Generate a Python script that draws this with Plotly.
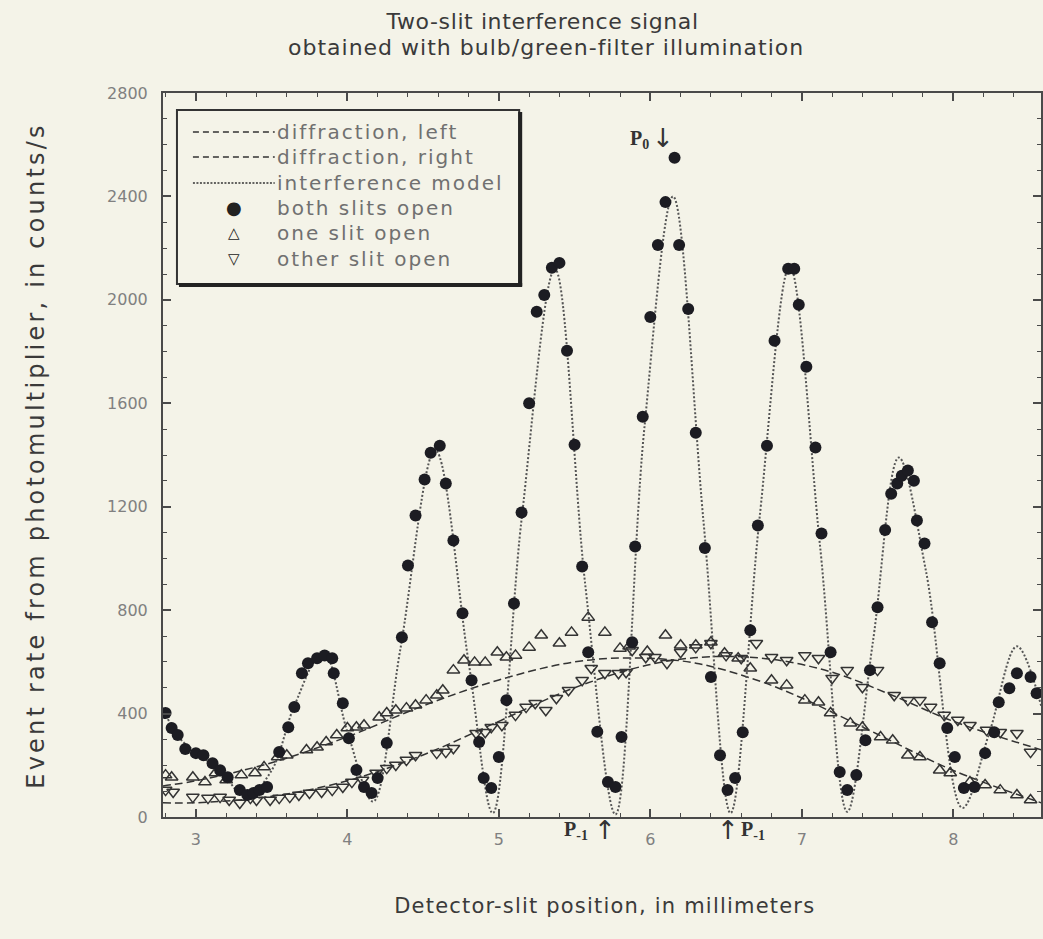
import json
import plotly.graph_objects as go

# ---- measured data -------------------------------------------------------
# both slits open (filled circles)
both_x = [2.80, 2.84, 2.88, 2.93, 3.00, 3.05, 3.11, 3.16, 3.21, 3.29, 3.34, 3.38, 3.42, 3.47,
          3.55, 3.61, 3.65, 3.70, 3.74, 3.80, 3.85, 3.90, 3.91, 3.97, 4.01, 4.06, 4.11, 4.16,
          4.20, 4.26, 4.36, 4.40, 4.45, 4.51, 4.55, 4.61, 4.65, 4.70, 4.76, 4.82, 4.87, 4.90,
          4.95, 5.00, 5.05, 5.10, 5.15, 5.20, 5.25, 5.30, 5.35, 5.40, 5.45, 5.50, 5.55, 5.59,
          5.65, 5.72, 5.77, 5.81, 5.88, 5.90, 5.95, 6.00, 6.05, 6.10, 6.16, 6.19, 6.25, 6.30,
          6.36, 6.40, 6.46, 6.51, 6.56, 6.61, 6.66, 6.71, 6.77, 6.82, 6.91, 6.95, 6.98, 7.03,
          7.09, 7.13, 7.19, 7.25, 7.30, 7.36, 7.42, 7.45, 7.50, 7.55, 7.59, 7.63, 7.66, 7.70,
          7.74, 7.76, 7.81, 7.86, 7.91, 7.96, 8.01, 8.07, 8.14, 8.21, 8.27, 8.30, 8.37, 8.42,
          8.51, 8.55]
both_y = [402, 344, 317, 263, 247, 239, 208, 181, 154, 104, 85, 93, 104, 116,
          251, 347, 425, 556, 595, 614, 625, 614, 556, 440, 305, 182, 116, 93,
          151, 286, 695, 973, 1166, 1305, 1409, 1436, 1290, 1069, 788, 529, 290, 151,
          112, 232, 452, 826, 1178, 1600, 1954, 2019, 2124, 2143, 1803, 1440, 969, 637,
          330, 135, 116, 309, 676, 1046, 1548, 1934, 2212, 2378, 2550, 2212, 1965, 1486,
          1040, 541, 239, 104, 151, 328, 722, 1127, 1436, 1842, 2120, 2120, 1981, 1741,
          1429, 1096, 637, 174, 104, 162, 297, 568, 811, 1110, 1250, 1290, 1320, 1340,
          1300, 1147, 1058, 753, 595, 344, 232, 112, 116, 247, 328, 444, 498, 556,
          541, 479]

# one slit open (upward triangles)
one_x = [2.80, 2.84, 2.98, 3.06, 3.13, 3.20, 3.30, 3.39, 3.45, 3.54, 3.60, 3.73, 3.80, 3.86,
         3.93, 4.00, 4.06, 4.11, 4.21, 4.26, 4.32, 4.39, 4.45, 4.52, 4.59, 4.63, 4.70, 4.77,
         4.84, 4.91, 4.99, 5.05, 5.11, 5.20, 5.28, 5.40, 5.48, 5.59, 5.70, 5.80, 5.86, 5.98,
         6.10, 6.20, 6.30, 6.40, 6.49, 6.58, 6.66, 6.80, 6.90, 7.02, 7.11, 7.19, 7.32, 7.40,
         7.52, 7.60, 7.70, 7.78, 7.91, 7.98, 8.11, 8.21, 8.31, 8.42, 8.51]
one_y = [162, 154, 154, 135, 170, 143, 162, 170, 193, 232, 239, 259, 270, 290,
         317, 344, 347, 355, 386, 402, 413, 421, 432, 452, 471, 490, 568, 606,
         598, 598, 637, 618, 625, 656, 703, 672, 714, 772, 714, 652, 660, 640,
         703, 664, 664, 676, 633, 614, 575, 529, 510, 452, 444, 402, 363, 347,
         309, 297, 239, 232, 181, 170, 135, 124, 104, 85, 66]

# other slit open (downward triangles)
other_x = [2.80, 2.85, 2.98, 3.08, 3.16, 3.22, 3.29, 3.36, 3.40, 3.49, 3.55, 3.62, 3.68, 3.75,
           3.83, 3.90, 3.97, 4.03, 4.10, 4.19, 4.26, 4.32, 4.39, 4.45, 4.59, 4.65, 4.70, 4.85,
           4.91, 4.95, 5.02, 5.11, 5.18, 5.24, 5.31, 5.38, 5.46, 5.55, 5.61, 5.70, 5.79, 5.84,
           5.88, 5.97, 6.03, 6.11, 6.20, 6.30, 6.40, 6.50, 6.60, 6.70, 6.80, 6.90, 7.02, 7.11,
           7.20, 7.30, 7.40, 7.50, 7.61, 7.70, 7.78, 7.85, 7.94, 8.03, 8.11, 8.22, 8.31, 8.42,
           8.51]
other_y = [104, 97, 77, 73, 77, 66, 54, 73, 66, 66, 73, 77, 85, 93,
           97, 104, 116, 135, 143, 170, 189, 201, 220, 239, 247, 251, 266, 324,
           328, 347, 355, 394, 425, 440, 413, 459, 490, 529, 575, 556, 556, 560,
           645, 618, 618, 595, 637, 656, 672, 625, 614, 672, 618, 606, 625, 614,
           537, 568, 502, 568, 471, 452, 452, 425, 394, 375, 355, 336, 328, 324,
           251]

# interference model curve
model_x = [2.78, 2.90, 3.05, 3.20, 3.33, 3.50, 3.65, 3.84, 4.00, 4.17, 4.35, 4.58, 4.80, 4.96,
           5.15, 5.37, 5.57, 5.77, 5.96, 6.15, 6.35, 6.53, 6.72, 6.92, 7.12, 7.30, 7.47, 7.64,
           7.82, 8.06, 8.24, 8.42, 8.58]
model_y = [420, 300, 230, 150, 75, 180, 430, 640, 330, 60, 650, 1420, 600, 15,
           1150, 2120, 900, 10, 1500, 2400, 1150, 15, 1150, 2130, 1050, 20, 680, 1390,
           950, 35, 330, 660, 430]

# single-slit diffraction envelopes
diff_left_x = [2.78, 3.0, 3.5, 4.0, 4.5, 5.0, 5.5, 5.9, 6.3, 6.7, 7.0, 7.5, 8.0, 8.58]
diff_left_y = [120, 140, 210, 310, 430, 530, 600, 615, 595, 530, 460, 320, 180, 55]
diff_right_x = [2.78, 3.0, 3.5, 4.0, 4.5, 5.0, 5.5, 6.0, 6.4, 6.8, 7.2, 7.6, 8.0, 8.58]
diff_right_y = [55, 55, 80, 140, 240, 370, 500, 590, 620, 610, 560, 470, 370, 260]

x_ticks = [3, 4, 5, 6, 7, 8]
y_ticks = [0, 400, 800, 1200, 1600, 2000, 2400, 2800]

legend_labels = ["diffraction, left", "diffraction, right", "interference model",
                 "both slits open", "one slit open", "other slit open"]

# ---- styling -------------------------------------------------------------
BG = "#f4f3e8"
AXIS = "#4a4a4a"
GREY_TEXT = "#808080"
TITLE_INK = "#3a3a3a"
SANS = "DejaVu Sans, Verdana, sans-serif"
SERIF = "Liberation Serif, Times New Roman, serif"

W, H = 1043, 939
ML, MT, MR, MB = 163, 93, 0, 122
PW, PH = W - ML - MR, H - MT - MB


def px(xp):
    return (xp - ML) / PW


def py(yp):
    return (H - MB - yp) / PH


fig = go.Figure()

fig.add_trace(go.Scatter(x=diff_left_x, y=diff_left_y, mode="lines", line_shape="spline",
                         line=dict(color="#333333", width=1.5, dash="8px,4px"),
                         name=legend_labels[0], hoverinfo="skip"))
fig.add_trace(go.Scatter(x=diff_right_x, y=diff_right_y, mode="lines", line_shape="spline",
                         line=dict(color="#333333", width=1.5, dash="8px,4px"),
                         name=legend_labels[1], hoverinfo="skip"))
fig.add_trace(go.Scatter(x=model_x, y=model_y, mode="lines",
                         line=dict(color="#555555", width=2, dash="2px,2px", shape="spline",
                                   smoothing=1.0),
                         name=legend_labels[2], hoverinfo="skip"))
fig.add_trace(go.Scatter(x=one_x, y=one_y, mode="markers", name=legend_labels[4],
                         marker=dict(symbol="triangle-up-open", size=11, color="#333333",
                                     line=dict(width=1.5, color="#333333"))))
fig.add_trace(go.Scatter(x=other_x, y=other_y, mode="markers", name=legend_labels[5],
                         marker=dict(symbol="triangle-down-open", size=11, color="#333333",
                                     line=dict(width=1.5, color="#333333"))))
fig.add_trace(go.Scatter(x=both_x, y=both_y, mode="markers", name=legend_labels[3],
                         marker=dict(symbol="circle", size=12, color="#1c1c22",
                                     line=dict(width=0))))

fig.update_layout(
    width=W, height=H,
    margin=dict(l=ML, r=MR, t=MT, b=MB),
    paper_bgcolor=BG, plot_bgcolor=BG,
    showlegend=False,
    font=dict(family=SANS, color=GREY_TEXT),
)

fig.update_xaxes(
    range=[2.783, 8.579], tickvals=x_ticks, ticktext=[str(v) for v in x_ticks],
    showgrid=False, zeroline=False,
    showline=True, linecolor=AXIS, linewidth=2, mirror="allticks",
    ticks="inside", ticklen=8, tickwidth=1.5, tickcolor=AXIS,
    minor=dict(dtick=0.2, ticks="inside", ticklen=4, tickwidth=1.2, tickcolor=AXIS),
    tickfont=dict(size=16, color=GREY_TEXT, family=SANS), ticklabelstandoff=7,
)
fig.update_yaxes(
    range=[0, 2800], tickvals=y_ticks, ticktext=[str(v) for v in y_ticks],
    showgrid=False, zeroline=False,
    showline=True, linecolor=AXIS, linewidth=2, mirror="allticks",
    ticks="inside", ticklen=8, tickwidth=1.5, tickcolor=AXIS,
    minor=dict(dtick=100, ticks="inside", ticklen=4, tickwidth=1.2, tickcolor=AXIS),
    tickfont=dict(size=16, color=GREY_TEXT, family=SANS), ticklabelstandoff=10,
)

annotations = []
tracking = {}  # annotation index -> letter spacing in px


def add_text(spacing=None, **kw):
    annotations.append(dict(showarrow=False, **kw))
    if spacing:
        tracking[len(annotations) - 1] = spacing


# ---- titles ----------------------------------------------------------------
add_text(spacing=0.6, xref="paper", yref="paper", x=px(543), y=py(22),
         text="Two-slit interference signal", xanchor="center", yanchor="middle",
         font=dict(size=22, color=TITLE_INK, family=SANS))
add_text(spacing=1.0, xref="paper", yref="paper", x=px(547), y=py(48),
         text="obtained with bulb/green-filter illumination", xanchor="center", yanchor="middle",
         font=dict(size=22, color=TITLE_INK, family=SANS))
add_text(spacing=1.2, xref="paper", yref="paper", x=px(606), y=py(906),
         text="Detector-slit position, in millimeters", xanchor="center", yanchor="middle",
         font=dict(size=21, color=TITLE_INK, family=SANS))
add_text(spacing=3.2, xref="paper", yref="paper", x=px(36), y=py(455),
         text="Event rate from photomultiplier, in counts/s", textangle=-90,
         xanchor="center", yanchor="middle",
         font=dict(size=24, color=TITLE_INK, family=SANS))

# ---- hand-drawn legend box ----------------------------------------------
shapes = []
bx0, bx1, by0, by1 = 177, 520, 110, 284
shapes.append(dict(type="rect", xref="paper", yref="paper",
                   x0=px(bx0), x1=px(bx1), y0=py(by1), y1=py(by0),
                   line=dict(color="#333333", width=2), fillcolor=BG, layer="above"))
# heavy shadow edge on right and bottom
shapes.append(dict(type="line", xref="paper", yref="paper",
                   x0=px(bx1 + 1), x1=px(bx1 + 1), y0=py(by1 + 2), y1=py(by0 + 2),
                   line=dict(color="#222222", width=4), layer="above"))
shapes.append(dict(type="line", xref="paper", yref="paper",
                   x0=px(bx0 + 2), x1=px(bx1 + 3), y0=py(by1 + 1), y1=py(by1 + 1),
                   line=dict(color="#222222", width=4), layer="above"))

row_y = [132, 157, 183, 208, 233, 259]
line_dash = ["6px,4px", "6px,4px", "2px,1.5px"]
for i in range(3):
    shapes.append(dict(type="line", xref="paper", yref="paper",
                       x0=px(193), x1=px(275), y0=py(row_y[i]), y1=py(row_y[i]),
                       line=dict(color="#333333", width=1.3, dash=line_dash[i]), layer="above"))

for i, lab in enumerate(legend_labels):
    add_text(spacing=2.0, xref="paper", yref="paper", x=px(275), y=py(row_y[i]),
             text=lab, xanchor="left", yanchor="middle", align="left",
             font=dict(size=20, color="#707070", family=SANS))
marker_glyphs = ["●", "△", "▽"]
marker_sizes = [18, 15, 15]
for j, g in enumerate(marker_glyphs):
    add_text(xref="paper", yref="paper", x=px(234), y=py(row_y[3 + j]),
             text=g, xanchor="center", yanchor="middle",
             font=dict(size=marker_sizes[j], color="#222222", family=SANS))

# ---- fringe order markers -------------------------------------------------
ARROW_FONT = dict(size=26, color="#333333", family="DejaVu Sans")
add_text(x=5.93, y=2620, xref="x", yref="y", text="<b>P<sub>0</sub></b>",
         xanchor="center", yanchor="middle",
         font=dict(size=20, color="#333333", family=SERIF))
add_text(x=6.085, y=2625, xref="x", yref="y", text="↓",
         xanchor="center", yanchor="middle", font=ARROW_FONT)
add_text(x=5.51, y=py(830), xref="x", yref="paper", text="<b>P<sub>-1</sub></b>",
         xanchor="center", yanchor="middle",
         font=dict(size=20, color="#333333", family=SERIF))
add_text(x=5.70, y=py(830), xref="x", yref="paper", text="↑",
         xanchor="center", yanchor="middle", font=ARROW_FONT)
add_text(x=6.51, y=py(830), xref="x", yref="paper", text="↑",
         xanchor="center", yanchor="middle", font=ARROW_FONT)
add_text(x=6.68, y=py(830), xref="x", yref="paper", text="<b>P<sub>-1</sub></b>",
         xanchor="center", yanchor="middle",
         font=dict(size=20, color="#333333", family=SERIF))

fig.update_layout(shapes=shapes, annotations=annotations)

# widen the letter spacing of the lettering once the figure has been drawn
spacing_js = """
var gd = document.getElementById('{plot_id}');
var sp = %s;
gd.querySelectorAll('g.annotation').forEach(function (g) {
    var k = g.getAttribute('data-index');
    if (sp.hasOwnProperty(k)) {
        g.querySelectorAll('text').forEach(function (t) {
            t.style.letterSpacing = sp[k] + 'px';
        });
    }
});
""" % json.dumps({str(k): v for k, v in tracking.items()})

fig.write_html("out.html", post_script=spacing_js)
